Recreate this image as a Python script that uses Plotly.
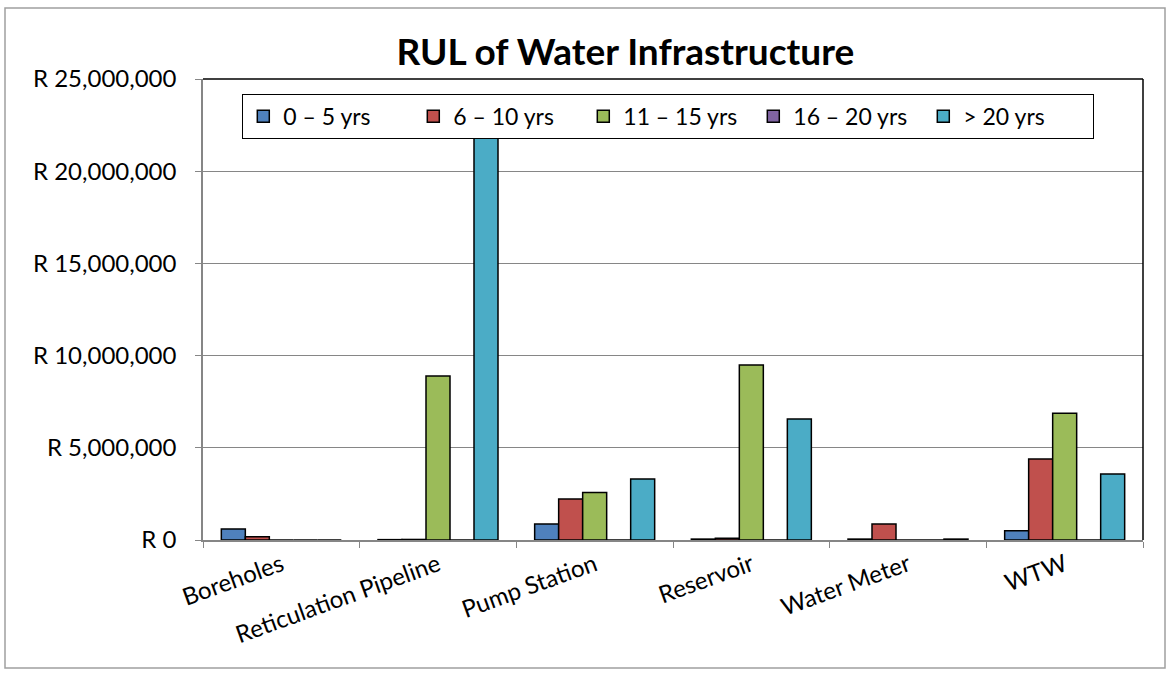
import plotly.graph_objects as go

# categories and series values (Rand)
assets = ["Boreholes", "Reticulation Pipeline", "Pump Station", "Reservoir", "Water Meter", "WTW"]
yrs_0_5 = [600000, 20000, 870000, 50000, 50000, 500000]
yrs_6_10 = [180000, 30000, 2220000, 100000, 870000, 4390000]
yrs_11_15 = [0, 8900000, 2570000, 9490000, 0, 6870000]
yrs_16_20 = [0, 0, 0, 0, 0, 0]
yrs_20_plus = [0, 23500000, 3310000, 6560000, 50000, 3580000]

series = [
    ("0 – 5 yrs", yrs_0_5, "#4F81BD"),
    ("6 – 10 yrs", yrs_6_10, "#C0504D"),
    ("11 – 15 yrs", yrs_11_15, "#9BBB59"),
    ("16 – 20 yrs", yrs_16_20, "#8064A2"),
    ("> 20 yrs", yrs_20_plus, "#4BACC6"),
]

tick_vals = [0, 5000000, 10000000, 15000000, 20000000, 25000000]
tick_text = ["R 0", "R 5,000,000", "R 10,000,000", "R 15,000,000", "R 20,000,000", "R 25,000,000"]

FONT = "Lato"

fig = go.Figure()
for name, vals, col in series:
    fig.add_trace(go.Bar(x=assets, y=vals, name=name,
                         marker=dict(color=col, line=dict(color="black", width=1.5))))

fig.update_layout(
    width=1171, height=673,
    margin=dict(l=203, r=28, t=79, b=133),
    paper_bgcolor="white", plot_bgcolor="white",
    font=dict(family=FONT, size=24, color="black"),
    title=dict(text="<b>RUL of Water Infrastructure</b>", x=0.534, xanchor="center",
               y=0.923, yanchor="middle", font=dict(family=FONT, size=37, color="black")),
    barmode="group", bargap=0.234, bargroupgap=0,
    showlegend=True,
    legend=dict(orientation="h", x=0.495, xanchor="center", y=0.968, yanchor="top",
                bgcolor="white", bordercolor="black", borderwidth=1,
                font=dict(family=FONT, size=23), itemwidth=30, traceorder="normal",
                entrywidth=125, entrywidthmode="pixels"),
    xaxis=dict(showline=True, linecolor="#868686", linewidth=1.5, ticks="outside",
               ticklen=6, tickcolor="#868686", tickangle=-20, tickson="boundaries",
               showgrid=False, tickfont=dict(size=24)),
    yaxis=dict(range=[0, 25000000], tickvals=tick_vals, ticktext=tick_text,
               showline=True, linecolor="#868686", linewidth=1.5, ticks="outside",
               ticklen=6, tickcolor="#868686", showgrid=True, gridcolor="#868686",
               gridwidth=1, zeroline=False, tickfont=dict(size=24),
               ticklabelstandoff=14),
)

# plot area border (top and right) and outer chart border
fig.add_shape(type="line", xref="paper", yref="paper", x0=0, x1=1, y0=1, y1=1,
              line=dict(color="black", width=1.5))
fig.add_shape(type="line", xref="paper", yref="paper", x0=1, x1=1, y0=0, y1=1,
              line=dict(color="black", width=1.5))
fig.add_shape(type="rect", xref="paper", yref="paper",
              x0=(5 - 203) / 940, x1=(1165 - 203) / 940,
              y0=(540 - 668) / 461, y1=(540 - 8) / 461,
              line=dict(color="#A0A0A0", width=1.5))

fig.write_html("out.html", config={"displayModeBar": False},
               post_script="document.body.style.margin='0';")
